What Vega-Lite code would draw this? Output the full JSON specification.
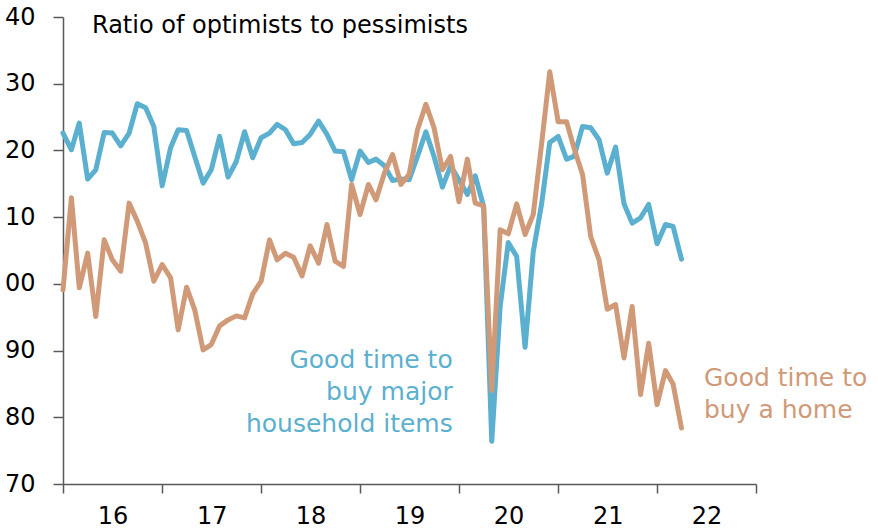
{
  "$schema": "https://vega.github.io/schema/vega-lite/v6.json",
  "width": 693,
  "height": 467,
  "autosize": {"type": "none"},
  "padding": {"left": 63, "top": 17, "right": 122, "bottom": 48},
  "background": "white",
  "config": {
    "view": {"stroke": null},
    "font": "DejaVu Sans",
    "axis": {"grid": false}
  },
  "datasets": {
    "lines": [
      {"date": "2016-01-01", "items": 122.6, "home": 99.1},
      {"date": "2016-02-01", "items": 120.1, "home": 112.9},
      {"date": "2016-03-01", "items": 124.1, "home": 99.4},
      {"date": "2016-04-01", "items": 115.7, "home": 104.6},
      {"date": "2016-05-01", "items": 117.1, "home": 95.1},
      {"date": "2016-06-01", "items": 122.7, "home": 106.6},
      {"date": "2016-07-01", "items": 122.6, "home": 103.6},
      {"date": "2016-08-01", "items": 120.7, "home": 101.9},
      {"date": "2016-09-01", "items": 122.6, "home": 112.1},
      {"date": "2016-10-01", "items": 127.0, "home": 109.4},
      {"date": "2016-11-01", "items": 126.4, "home": 106.1},
      {"date": "2016-12-01", "items": 123.6, "home": 100.4},
      {"date": "2017-01-01", "items": 114.7, "home": 102.9},
      {"date": "2017-02-01", "items": 120.4, "home": 100.9},
      {"date": "2017-03-01", "items": 123.1, "home": 93.1},
      {"date": "2017-04-01", "items": 123.0, "home": 99.5},
      {"date": "2017-05-01", "items": 119.1, "home": 96.1},
      {"date": "2017-06-01", "items": 115.1, "home": 90.1},
      {"date": "2017-07-01", "items": 117.1, "home": 90.9},
      {"date": "2017-08-01", "items": 122.1, "home": 93.7},
      {"date": "2017-09-01", "items": 116.0, "home": 94.6},
      {"date": "2017-10-01", "items": 118.3, "home": 95.2},
      {"date": "2017-11-01", "items": 122.8, "home": 94.9},
      {"date": "2017-12-01", "items": 118.9, "home": 98.5},
      {"date": "2018-01-01", "items": 121.9, "home": 100.4},
      {"date": "2018-02-01", "items": 122.6, "home": 106.6},
      {"date": "2018-03-01", "items": 123.9, "home": 103.6},
      {"date": "2018-04-01", "items": 123.1, "home": 104.6},
      {"date": "2018-05-01", "items": 121.0, "home": 104.0},
      {"date": "2018-06-01", "items": 121.2, "home": 101.2},
      {"date": "2018-07-01", "items": 122.4, "home": 105.7},
      {"date": "2018-08-01", "items": 124.4, "home": 103.1},
      {"date": "2018-09-01", "items": 122.4, "home": 108.9},
      {"date": "2018-10-01", "items": 119.9, "home": 103.4},
      {"date": "2018-11-01", "items": 119.8, "home": 102.6},
      {"date": "2018-12-01", "items": 115.6, "home": 114.9},
      {"date": "2019-01-01", "items": 119.9, "home": 110.4},
      {"date": "2019-02-01", "items": 118.2, "home": 114.9},
      {"date": "2019-03-01", "items": 118.7, "home": 112.6},
      {"date": "2019-04-01", "items": 117.7, "home": 116.6},
      {"date": "2019-05-01", "items": 115.5, "home": 119.4},
      {"date": "2019-06-01", "items": 115.7, "home": 114.9},
      {"date": "2019-07-01", "items": 115.6, "home": 116.4},
      {"date": "2019-08-01", "items": 119.1, "home": 123.1},
      {"date": "2019-09-01", "items": 122.8, "home": 126.9},
      {"date": "2019-10-01", "items": 119.1, "home": 123.4},
      {"date": "2019-11-01", "items": 114.5, "home": 117.1},
      {"date": "2019-12-01", "items": 117.7, "home": 119.1},
      {"date": "2020-01-01", "items": 115.6, "home": 112.3},
      {"date": "2020-02-01", "items": 113.4, "home": 118.7},
      {"date": "2020-03-01", "items": 116.2, "home": 112.1},
      {"date": "2020-04-01", "items": 111.6, "home": 111.7},
      {"date": "2020-05-01", "items": 76.4, "home": 84.0},
      {"date": "2020-06-01", "items": 96.6, "home": 108.1},
      {"date": "2020-07-01", "items": 106.2, "home": 107.5},
      {"date": "2020-08-01", "items": 104.1, "home": 112.0},
      {"date": "2020-09-01", "items": 90.5, "home": 107.4},
      {"date": "2020-10-01", "items": 104.8, "home": 110.4},
      {"date": "2020-11-01", "items": 112.0, "home": 121.0},
      {"date": "2020-12-01", "items": 121.2, "home": 131.8},
      {"date": "2021-01-01", "items": 122.1, "home": 124.3},
      {"date": "2021-02-01", "items": 118.7, "home": 124.3},
      {"date": "2021-03-01", "items": 119.1, "home": 120.3},
      {"date": "2021-04-01", "items": 123.6, "home": 116.4},
      {"date": "2021-05-01", "items": 123.4, "home": 107.1},
      {"date": "2021-06-01", "items": 121.6, "home": 103.6},
      {"date": "2021-07-01", "items": 116.6, "home": 96.2},
      {"date": "2021-08-01", "items": 120.5, "home": 96.9},
      {"date": "2021-09-01", "items": 112.0, "home": 88.9},
      {"date": "2021-10-01", "items": 109.1, "home": 96.6},
      {"date": "2021-11-01", "items": 109.9, "home": 83.4},
      {"date": "2021-12-01", "items": 111.9, "home": 91.1},
      {"date": "2022-01-01", "items": 106.0, "home": 81.9},
      {"date": "2022-02-01", "items": 108.9, "home": 87.0},
      {"date": "2022-03-01", "items": 108.6, "home": 85.0},
      {"date": "2022-04-01", "items": 103.7, "home": 78.4}
    ],
    "title": [
      {"date": "2016-04-17", "value": 137.6, "text": "Ratio of optimists to pessimists"}
    ],
    "itemsLabel": [
      {"date": "2019-12-09", "value": 87.4, "text": ["Good time to", "buy major", "household items"]}
    ],
    "homeLabel": [
      {"date": "2022-06-23", "value": 84.7, "text": ["Good time to", "buy a home"]}
    ]
  },
  "layer": [
    {
      "data": {"name": "lines"},
      "transform": [{"fold": ["items", "home"], "as": ["series", "value"]}],
      "mark": {"type": "line", "strokeWidth": 5, "strokeCap": "round", "strokeJoin": "round"},
      "encoding": {
        "x": {
          "field": "date", "type": "temporal",
          "scale": {"type": "utc", "domain": [{"year": 2016, "month": 1, "date": 1, "utc": true}, {"year": 2023, "month": 1, "date": 1, "utc": true}]},
          "axis": {
            "title": null,
            "values": [
              {"year": 2016, "month": 1, "date": 1, "utc": true},
              {"year": 2017, "month": 1, "date": 1, "utc": true},
              {"year": 2018, "month": 1, "date": 1, "utc": true},
              {"year": 2019, "month": 1, "date": 1, "utc": true},
              {"year": 2020, "month": 1, "date": 1, "utc": true},
              {"year": 2021, "month": 1, "date": 1, "utc": true},
              {"year": 2022, "month": 1, "date": 1, "utc": true},
              {"year": 2023, "month": 1, "date": 1, "utc": true}
            ],
            "labelExpr": "utcyear(datum.value) < 2023 ? utcFormat(datum.value, '%y') : ''",
            "labelOffset": 49.5,
            "labelFontSize": 24,
            "labelColor": "#000000",
            "labelPadding": 11,
            "labelFlush": false,
            "labelOverlap": false,
            "tickSize": 9,
            "tickColor": "#595959",
            "tickWidth": 1.5,
            "domainColor": "#595959",
            "domainWidth": 1.5
          }
        },
        "y": {
          "field": "value", "type": "quantitative",
          "scale": {"domain": [70, 140], "nice": false, "zero": false},
          "axis": {
            "title": null,
            "values": [70, 80, 90, 100, 110, 120, 130, 140],
            "labelExpr": "format(datum.value % 100, '02d')",
            "labelFontSize": 24,
            "labelColor": "#000000",
            "labelPadding": 18,
            "tickSize": 10,
            "tickColor": "#595959",
            "tickWidth": 1.5,
            "domainColor": "#595959",
            "domainWidth": 1.5
          }
        },
        "color": {
          "field": "series", "type": "nominal",
          "scale": {"domain": ["items", "home"], "range": ["#5BAFCF", "#D09A78"]},
          "legend": null
        }
      }
    },
    {
      "data": {"name": "title"},
      "mark": {"type": "text", "fontSize": 24, "align": "left", "baseline": "alphabetic", "color": "#000000"},
      "encoding": {
        "x": {"field": "date", "type": "temporal"},
        "y": {"field": "value", "type": "quantitative"},
        "text": {"field": "text"}
      }
    },
    {
      "data": {"name": "itemsLabel"},
      "mark": {"type": "text", "fontSize": 25, "lineHeight": 32, "align": "right", "baseline": "alphabetic", "color": "#5BAFCF"},
      "encoding": {
        "x": {"field": "date", "type": "temporal"},
        "y": {"field": "value", "type": "quantitative"},
        "text": {"field": "text"}
      }
    },
    {
      "data": {"name": "homeLabel"},
      "mark": {"type": "text", "fontSize": 25, "lineHeight": 32, "align": "left", "baseline": "alphabetic", "color": "#D09A78"},
      "encoding": {
        "x": {"field": "date", "type": "temporal"},
        "y": {"field": "value", "type": "quantitative"},
        "text": {"field": "text"}
      }
    }
  ]
}
